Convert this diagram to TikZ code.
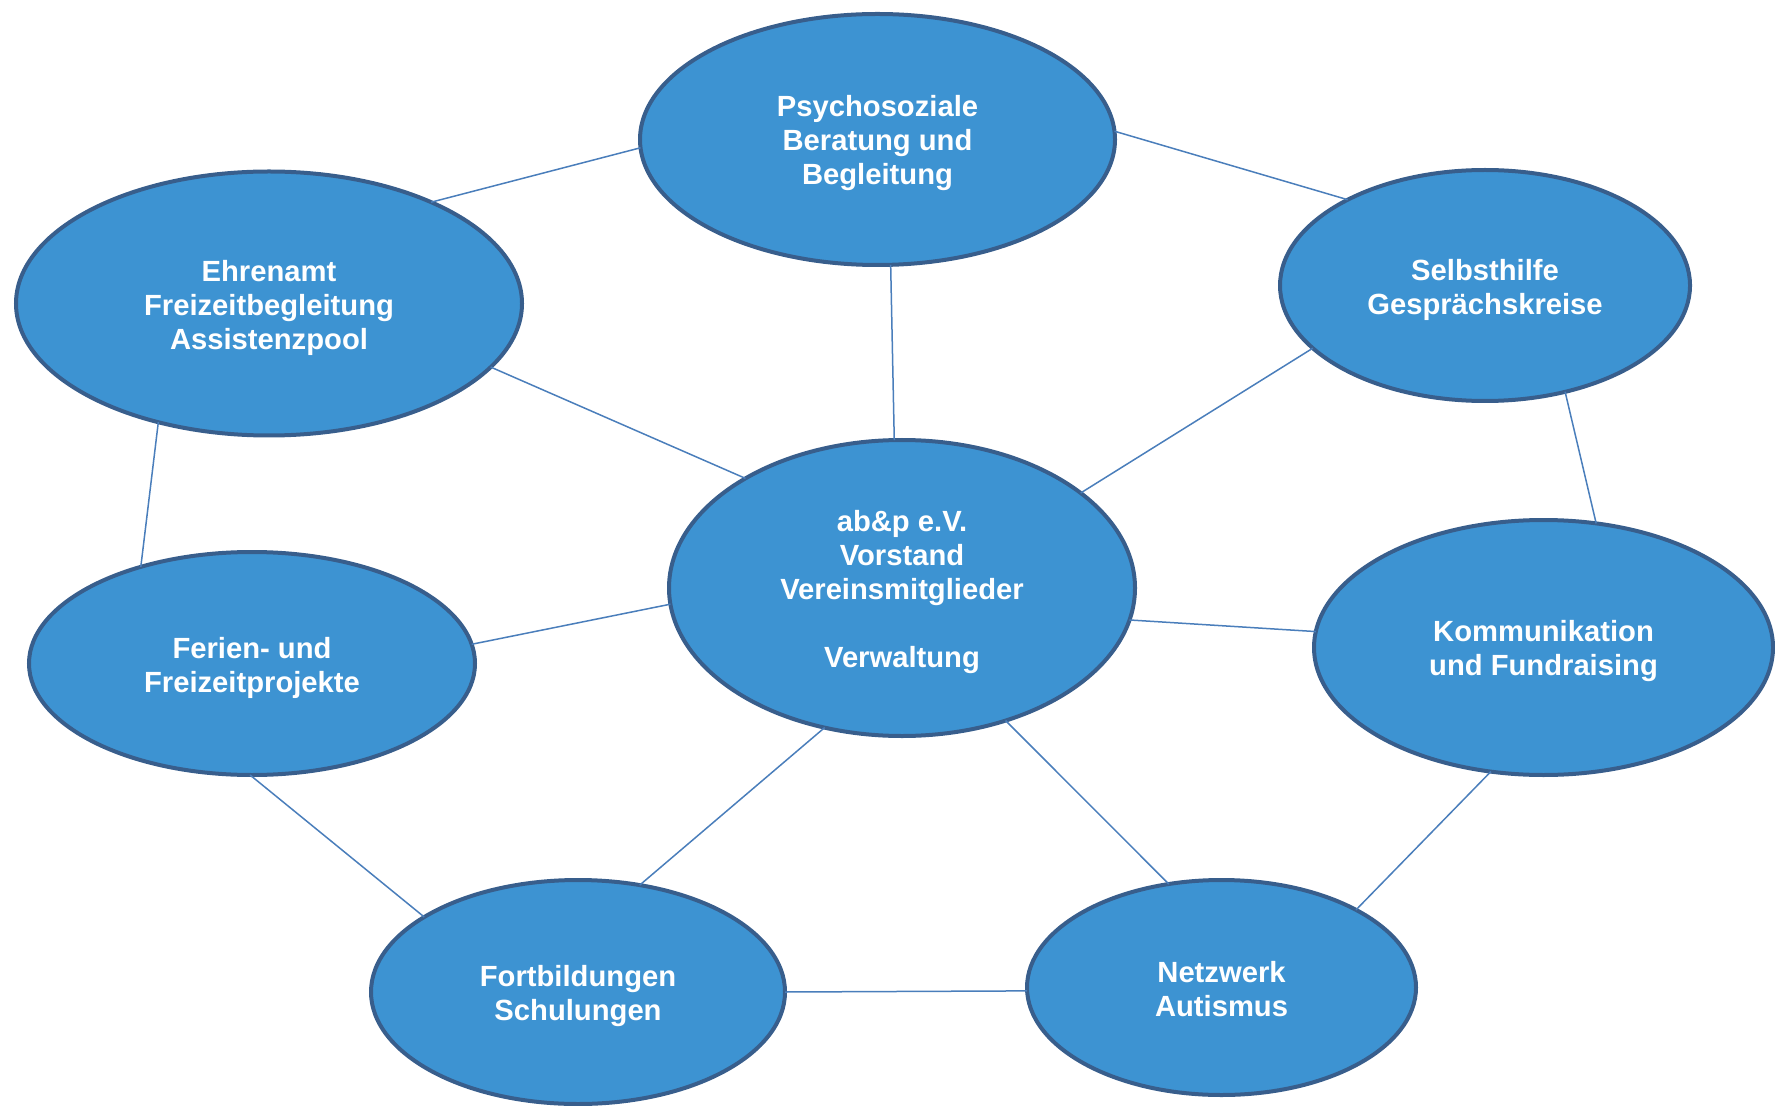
\documentclass[tikz,border=0pt]{standalone}
\usepackage{fontspec}
\setmainfont{Liberation Sans}
\usetikzlibrary{shapes.geometric}
\definecolor{bubblefill}{RGB}{61,147,210}
\definecolor{bubbleline}{RGB}{56,94,140}
\definecolor{linkcol}{RGB}{74,126,187}
\begin{document}
\begin{tikzpicture}[x=0.5pt,y=-0.5pt,
  bubble/.style={ellipse, draw=bubbleline, line width=2pt, fill=bubblefill,
    inner sep=0pt, outer sep=0pt},
  btext/.style={text=white, font=\fontsize{14.6}{17}\selectfont\bfseries,
    align=center, inner sep=0pt},
  link/.style={draw=linkcol, line width=0.75pt}]
\useasboundingbox (0,0) rectangle (1775,1106);

\node[bubble, minimum width=237.5pt, minimum height=125.5pt] (psy) at (877.5,139.5) {};
\node[bubble, minimum width=253pt, minimum height=132pt] (ehr) at (269,303.5) {};
\node[bubble, minimum width=205pt, minimum height=115.5pt] (sel) at (1485,285.5) {};
\node[bubble, minimum width=233pt, minimum height=148pt] (ctr) at (902,588) {};
\node[bubble, minimum width=223pt, minimum height=111.5pt] (fer) at (252,663.5) {};
\node[bubble, minimum width=229.5pt, minimum height=127.5pt] (kom) at (1543.5,647.5) {};
\node[bubble, minimum width=207pt, minimum height=112pt] (fort) at (578,992) {};
\node[bubble, minimum width=194.5pt, minimum height=107.5pt] (netz) at (1221.5,987.5) {};

\node[btext] (psyt) at ([yshift=-2pt]psy.center) {Psychosoziale\\Beratung und\\Begleitung};
\node[btext] (ehrt) at ([yshift=-2pt]ehr.center) {Ehrenamt\\Freizeitbegleitung\\Assistenzpool};
\node[btext] (selt) at ([yshift=-2pt]sel.center) {Selbsthilfe\\Gesprächskreise};
\node[btext] (ctrt) at ([yshift=-2pt]ctr.center) {ab\&p e.V.\\Vorstand\\Vereinsmitglieder\\[17pt]Verwaltung};
\node[btext] (fert) at ([yshift=-2pt]fer.center) {Ferien- und\\Freizeitprojekte};
\node[btext] (komt) at ([yshift=-2pt]kom.center) {Kommunikation\\und Fundraising};
\node[btext] (fortt) at ([yshift=-2pt]fort.center) {Fortbildungen\\Schulungen};
\node[btext] (netzt) at ([yshift=-1pt]netz.center) {Netzwerk\\Autismus};

\draw[link] (psy.182.7) -- (ehr.32.3);
\draw[link] (psy.2) -- (sel.148.5);
\draw[link] (psy.276.2) -- (ctr.93.1);
\draw[link] (ehr.-16.9) -- (ctr.145.3);
\draw[link] (sel.200.2) -- (ctr.28.2);
\draw[link] (sel.-53.1) -- (kom.67.5);
\draw[link] (ehr.227.5) -- (fer.139.2);
\draw[link] (fer.5) -- (ctr.184.9);
\draw[link] (ctr.-8.9) -- (kom.176.2);
\draw[link] (fer.269) -- (fort.154.3);
\draw[link] (ctr.241.1) -- (fort.60.4);
\draw[link] (ctr.-52.6) -- (netz.117.7);
\draw[link] (kom.247.7) -- (netz.30.6);
\draw[link] (fort.-0.3) -- (netz.181);
\end{tikzpicture}
\end{document}
